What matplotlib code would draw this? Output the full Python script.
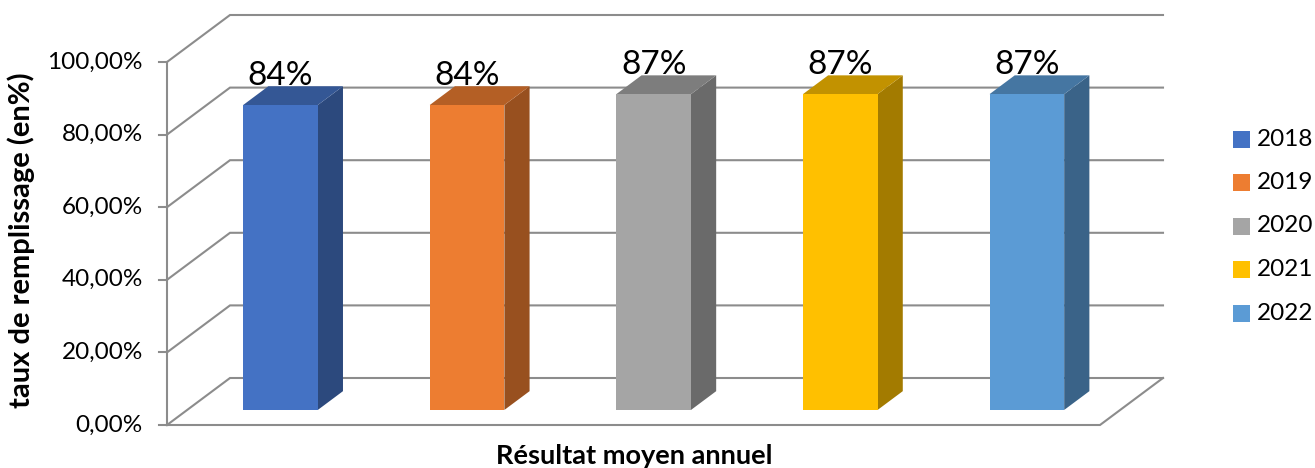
import matplotlib
matplotlib.use("Agg")
import matplotlib.pyplot as plt
from matplotlib.patches import Polygon, Rectangle
from matplotlib.colors import to_rgb

plt.rcParams['font.family'] = ['Lato', 'DejaVu Sans']

years = ['2018', '2019', '2020', '2021', '2022']
taux = [0.84, 0.84, 0.87, 0.87, 0.87]
couleurs = ['#4472C4', '#ED7D31', '#A5A5A5', '#FFC000', '#5B9BD5']
ticks = [0.0, 0.2, 0.4, 0.6, 0.8, 1.0]
tick_labels = ['0,00%', '20,00%', '40,00%', '60,00%', '80,00%', '100,00%']

# geometrie de la vue oblique (en pixels)
X0, Y0 = 167, 425          # coin avant gauche du sol
LARGEUR = 933              # largeur du sol
ECHELLE = 363              # pixels pour 100 %
DX, DY = 63, 47            # decalage de profondeur jusqu'au mur du fond
D_AVANT, D_ARRIERE = 0.32, 0.72
FRAC_BARRE = 0.40
GRIS = '#8C8C8C'


def proj(u, v, d):
    return X0 + u + d * DX, Y0 - v * ECHELLE - d * DY


def assombrir(c, f):
    r, g, b = to_rgb(c)
    return (r * f, g * f, b * f)


fig = plt.figure(figsize=(13.15, 4.68), dpi=100)
ax = fig.add_axes([0, 0, 1, 1])
ax.set_xlim(0, 1315)
ax.set_ylim(468, 0)
ax.axis('off')

# murs : lignes de grille, axe vertical et sol
for v, lab in zip(ticks, tick_labels):
    pts = [proj(0, v, 0), proj(0, v, 1), proj(LARGEUR, v, 1)]
    ax.plot([p[0] for p in pts], [p[1] for p in pts], color=GRIS, lw=1.5,
            solid_joinstyle='miter', zorder=1)
    x, y = proj(0, v, 0)
    ax.plot([x - 8, x], [y, y], color=GRIS, lw=1.5, zorder=1)
    ax.text(x - 24, y, lab, ha='right', va='center', fontsize=17.5)

xa, ya = proj(0, 0, 0)
xb, yb = proj(0, 1, 0)
ax.plot([xa, xb], [ya, yb], color=GRIS, lw=1.5, zorder=1)
sol = [proj(0, 0, 0), proj(LARGEUR, 0, 0), proj(LARGEUR, 0, 1)]
ax.plot([p[0] for p in sol], [p[1] for p in sol], color=GRIS, lw=1.5,
        solid_joinstyle='miter', zorder=1)

# barres 3D
pas = LARGEUR / len(years)
for i, (an, v, c) in enumerate(zip(years, taux, couleurs)):
    centre = pas * (i + 0.5)
    u0 = centre - pas * FRAC_BARRE / 2
    u1 = centre + pas * FRAC_BARRE / 2
    cote = [proj(u1, 0, D_AVANT), proj(u1, 0, D_ARRIERE),
            proj(u1, v, D_ARRIERE), proj(u1, v, D_AVANT)]
    dessus = [proj(u0, v, D_AVANT), proj(u1, v, D_AVANT),
              proj(u1, v, D_ARRIERE), proj(u0, v, D_ARRIERE)]
    face = [proj(u0, 0, D_AVANT), proj(u1, 0, D_AVANT),
            proj(u1, v, D_AVANT), proj(u0, v, D_AVANT)]
    ax.add_patch(Polygon(cote, closed=True, fc=assombrir(c, 0.64), ec='none', zorder=2))
    ax.add_patch(Polygon(dessus, closed=True, fc=assombrir(c, 0.76), ec='none', zorder=2))
    ax.add_patch(Polygon(face, closed=True, fc=c, ec='none', zorder=3))
    xt, _ = proj(centre, v, D_AVANT)
    _, yt = proj(centre, v, D_ARRIERE)
    ax.text(xt, yt - 1, f'{v * 100:.0f}%', ha='center', va='baseline',
            fontsize=24, zorder=4)

# legende
for i, (an, c) in enumerate(zip(years, couleurs)):
    y = 139 + i * 43.5
    ax.add_patch(Rectangle((1233, y - 8.5), 17, 17, fc=c, ec='none'))
    ax.text(1257, y, an, ha='left', va='center', fontsize=17.5)

ax.text(21, 240, 'taux de remplissage (en%)', rotation=90, ha='center',
        va='center', fontsize=21, fontweight='bold')
ax.text(634, 456, 'Résultat moyen annuel', ha='center', va='center',
        fontsize=19.5, fontweight='bold')

fig.savefig('out.png', dpi=100)
